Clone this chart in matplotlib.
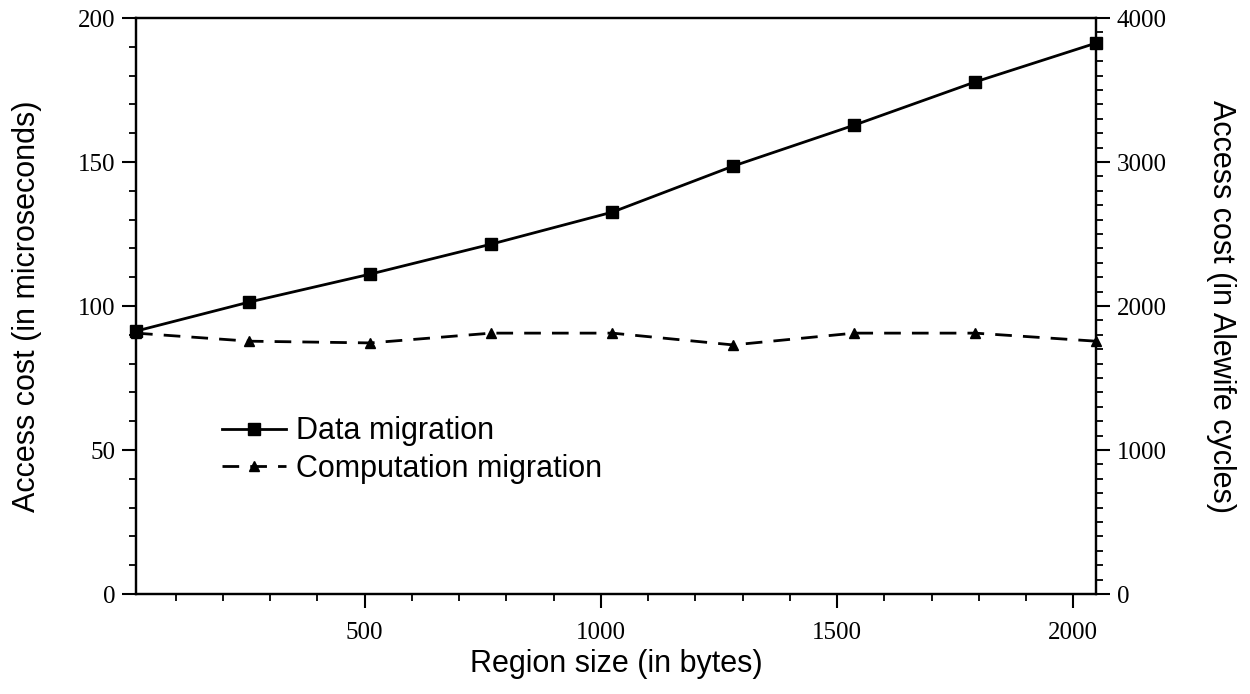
import matplotlib.pyplot as plt
from matplotlib.ticker import MultipleLocator

# region sizes (bytes) and access costs (microseconds)
region_size = [16, 256, 512, 768, 1024, 1280, 1536, 1792, 2048]
data_mig = [91.3, 101.4, 111.1, 121.5, 132.6, 148.6, 162.8, 177.8, 191.3]
comp_mig = [90.6, 87.8, 87.2, 90.6, 90.6, 86.5, 90.6, 90.6, 87.8]

serif = "Liberation Serif"
sans = "Liberation Sans"

fig = plt.figure(figsize=(12.5, 6.94), dpi=100)
ax = fig.add_axes([0.1088, 0.144, 0.768, 0.830])

ax.plot(region_size, data_mig, "k-", marker="s", markersize=8, lw=2,
        label="Data migration", clip_on=False, zorder=5)
ax.plot(region_size, comp_mig, "k--", marker="^", markersize=7, lw=2,
        dashes=(6, 4), label="Computation migration", clip_on=False, zorder=5)

ax.set_xlim(16, 2048)
ax.set_ylim(0, 200)
ax.xaxis.set_major_locator(MultipleLocator(500))
ax.xaxis.set_minor_locator(MultipleLocator(100))
ax.yaxis.set_major_locator(MultipleLocator(50))
ax.yaxis.set_minor_locator(MultipleLocator(10))
ax.tick_params(which="major", direction="out", length=10, width=1.5,
               labelsize=18, pad=5)
ax.tick_params(which="minor", direction="out", length=5, width=1.3)
ax.tick_params(axis="x", which="major", pad=10)
for lab in ax.get_xticklabels() + ax.get_yticklabels():
    lab.set_fontfamily(serif)
for s in ax.spines.values():
    s.set_linewidth(1.6)

ax.set_xlabel("Region size (in bytes)", fontsize=22, family=sans, labelpad=4)
ax.set_ylabel("Access cost (in microseconds)", fontsize=22, family=sans, labelpad=26)

ax2 = ax.twinx()
ax2.set_ylim(0, 4000)
ax2.yaxis.set_major_locator(MultipleLocator(1000))
ax2.yaxis.set_minor_locator(MultipleLocator(100))
ax2.tick_params(which="major", direction="out", length=10, width=1.5,
                labelsize=18, pad=5)
ax2.tick_params(which="minor", direction="out", length=5, width=1.3)
for lab in ax2.get_yticklabels():
    lab.set_fontfamily(serif)
ax2.set_ylabel("Access cost (in Alewife cycles)", fontsize=22, family=sans,
               rotation=270, labelpad=50)
for s in ax2.spines.values():
    s.set_linewidth(1.6)

leg = ax.legend(loc="upper left", bbox_to_anchor=(0.077, 0.33), frameon=False,
                handlelength=2.1, handletextpad=0.33, labelspacing=0.25,
                prop={"family": sans, "size": 22}, borderaxespad=0)

fig.savefig("out.png", dpi=100)
